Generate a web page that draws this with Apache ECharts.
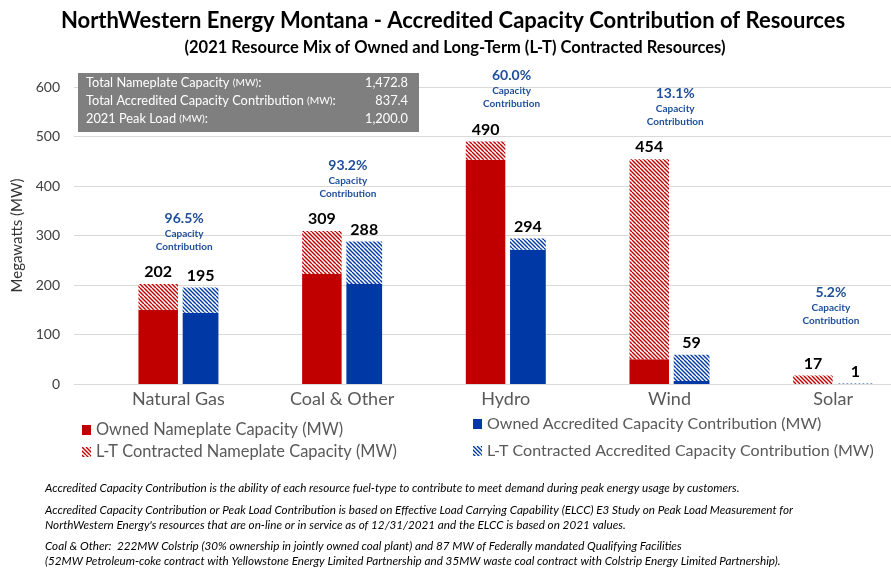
<!DOCTYPE html>
<html>
<head>
<meta charset="utf-8">
<script src="https://cdn.jsdelivr.net/npm/echarts@6/dist/echarts.min.js"></script>
<style>html,body{margin:0;padding:0;background:#fff;overflow:hidden}#c{width:915px;height:572px}</style>
</head>
<body>
<div id="c"></div>
<script>
const categories = ['Natural Gas', 'Coal & Other', 'Hydro', 'Wind', 'Solar'];
const ownedNameplate = [150, 222, 453, 50, 0];
const contractedNameplate = [52, 87, 37, 404, 17];
const ownedAccredited = [144, 202, 271, 6, 0];
const contractedAccredited = [51, 86, 23, 53, 1];
const capacityPct = ['96.5%', '93.2%', '60.0%', '13.1%', '5.2%'];
const infoLabels = ['Total Nameplate Capacity', 'Total Accredited Capacity Contribution', '2021 Peak Load'];
const infoValues = ['1,472.8', '837.4', '1,200.0'];
const seriesNames = ['Owned Nameplate Capacity (MW)', 'L-T Contracted Nameplate Capacity (MW)',
  'Owned Accredited Capacity Contribution (MW)', 'L-T Contracted Accredited Capacity Contribution (MW)'];
const footnotes = [
  'Accredited Capacity Contribution is the ability of each resource fuel-type to contribute to meet demand during peak energy usage by customers.',
  'Accredited Capacity Contribution or Peak Load Contribution is based on Effective Load Carrying Capability (ELCC) E3 Study on Peak Load Measurement for',
  "NorthWestern Energy's resources that are on-line or in service as of 12/31/2021 and the ELCC is based on 2021 values.",
  'Coal & Other:  222MW Colstrip (30% ownership in jointly owned coal plant) and 87 MW of Federally mandated Qualifying Facilities',
  '(52MW Petroleum-coke contract with Yellowstone Energy Limited Partnership and 35MW waste coal contract with Colstrip Energy Limited Partnership).'
];

const RED = '#C00000', BLUE = '#0039A6', PCT = '#1F4E9A';
const FONT = 'Lato';

function hatch(color) {
  const c = document.createElement('canvas');
  c.width = 8; c.height = 8;
  const x = c.getContext('2d');
  x.fillStyle = '#fff'; x.fillRect(0, 0, 8, 8);
  x.strokeStyle = color; x.lineWidth = 1.4;
  for (let o = -8; o <= 8; o += 4) {
    x.beginPath(); x.moveTo(o, 0); x.lineTo(o + 8, 8); x.stroke();
  }
  return { image: c, repeat: 'repeat' };
}

const npTotals = ownedNameplate.map((v, i) => v + contractedNameplate[i]);
const acTotals = ownedAccredited.map((v, i) => v + contractedAccredited[i]);

const totalLabel = (totals) => ({
  show: true, position: 'top', distance: 4,
  formatter: p => String(totals[p.dataIndex]),
  fontFamily: FONT, fontWeight: 'bold', fontSize: 16, color: '#000'
});

const chart = echarts.init(document.getElementById('c'), null, { renderer: 'canvas' });

const option = {
  animation: false,
  backgroundColor: '#fff',
  title: [
    { text: 'NorthWestern Energy Montana - Accredited Capacity Contribution of Resources',
      left: 448, top: 5, textAlign: 'center',
      textStyle: { fontFamily: FONT, fontWeight: 'bold', fontSize: 22, color: '#000' } },
    { text: '(2021 Resource Mix of Owned and Long-Term (L-T) Contracted Resources)',
      left: 450, top: 34, textAlign: 'center',
      textStyle: { fontFamily: FONT, fontWeight: 'bold', fontSize: 16.5, color: '#000' } }
  ],
  grid: [
    { left: 74, right: 0, top: 87, bottom: 188 },
    { left: 96.6, right: 0, top: 87, bottom: 188 }
  ],
  xAxis: [
    { gridIndex: 0, type: 'value', show: false, min: 0, max: 1 },
    { gridIndex: 1, type: 'category', data: categories,
      axisLine: { show: false }, axisTick: { show: false },
      axisLabel: { margin: 6, fontFamily: FONT, fontSize: 18, color: '#595959' } }
  ],
  yAxis: [
    { gridIndex: 0, type: 'value', min: 0, max: 600, interval: 100,
      name: 'Megawatts (MW)', nameLocation: 'middle', nameGap: 47, nameRotate: 90,
      nameTextStyle: { fontFamily: FONT, fontSize: 15, color: '#333' },
      axisLine: { show: false }, axisTick: { show: false },
      axisLabel: { margin: 14, fontFamily: FONT, fontSize: 14, color: '#404040' },
      splitLine: { lineStyle: { color: '#D9D9D9', width: 1 } } },
    { gridIndex: 1, type: 'value', min: 0, max: 600, interval: 100, show: false,
      splitLine: { show: false } }
  ],
  legend: [
    { data: [seriesNames[0], seriesNames[1]], orient: 'vertical', left: 82, top: 422, padding: 0,
      itemWidth: 9, itemHeight: 10, itemGap: 6, icon: 'rect',
      textStyle: { fontFamily: FONT, fontSize: 16.4, color: '#595959', lineHeight: 16 } },
    { data: [seriesNames[2], seriesNames[3]], orient: 'vertical', left: 473, top: 416, padding: 0,
      itemWidth: 9, itemHeight: 10, itemGap: 11, icon: 'rect',
      textStyle: { fontFamily: FONT, fontSize: 16, color: '#595959', lineHeight: 16 } }
  ],
  series: [
    { name: seriesNames[0], type: 'bar', xAxisIndex: 1, yAxisIndex: 1, stack: 'np',
      data: ownedNameplate, barWidth: 39.5, barGap: '12%', itemStyle: { color: RED } },
    { name: seriesNames[1], type: 'bar', xAxisIndex: 1, yAxisIndex: 1, stack: 'np',
      data: contractedNameplate, itemStyle: { color: hatch(RED) }, label: totalLabel(npTotals) },
    { name: 'pctNote', type: 'bar', xAxisIndex: 1, yAxisIndex: 1, stack: 'np',
      data: categories.map((c, i) => i === 4
        ? { value: 0, label: { distance: 48, offset: [18, 0] } } : 0),
      itemStyle: { color: 'transparent' },
      label: { show: true, position: 'top', distance: 31, offset: [26, 0],
        formatter: p => '{p|' + capacityPct[p.dataIndex] + '}\n{c|Capacity}\n{c|Contribution}',
        rich: {
          p: { fontFamily: FONT, fontWeight: 'bold', fontSize: 14, color: PCT, lineHeight: 18, align: 'center' },
          c: { fontFamily: FONT, fontWeight: 'bold', fontSize: 10, color: PCT, lineHeight: 13, align: 'center' }
        } } },
    { name: seriesNames[2], type: 'bar', xAxisIndex: 1, yAxisIndex: 1, stack: 'ac',
      data: ownedAccredited, itemStyle: { color: BLUE } },
    { name: seriesNames[3], type: 'bar', xAxisIndex: 1, yAxisIndex: 1, stack: 'ac',
      data: contractedAccredited, itemStyle: { color: hatch(BLUE) }, label: totalLabel(acTotals) }
  ],
  graphic: [
    { type: 'rect', left: 78, top: 73, shape: { width: 341, height: 59 }, style: { fill: '#7F7F7F' }, z: 10 },
    ...infoLabels.map((t, i) => ({
      type: 'text', left: 86, top: 76 + i * 18, z: 11,
      style: { text: '{a|' + t + ' }{b|(MW)}{a|:}', rich: {
        a: { fontFamily: FONT, fontSize: 12.8, fill: '#fff' },
        b: { fontFamily: FONT, fontSize: 10.2, fill: '#fff' } } }
    })),
    ...infoValues.map((t, i) => ({
      type: 'text', x: 408, y: 76 + i * 18, z: 11,
      style: { text: t, fontFamily: FONT, fontSize: 12.8, fill: '#fff', align: 'right', verticalAlign: 'top' }
    })),
    ...footnotes.map((t, i) => ({
      type: 'text', left: 45, top: [482, 504, 519, 540, 555][i],
      style: { text: t, fontFamily: FONT, fontStyle: 'italic', fontSize: 11.7, fill: '#000' }
    }))
  ]
};
chart.setOption(option);
</script>
</body>
</html>
